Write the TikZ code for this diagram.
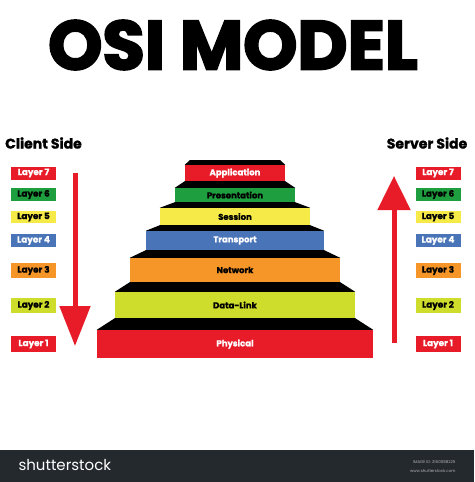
\documentclass[tikz,border=0pt]{standalone}
\usepackage{fontspec}
\setmainfont{Poppins}[BoldFeatures={FakeBold=1.2}]
\newfontfamily\titlefont{Poppins}[BoldFeatures={FakeBold=3}]
\usepackage{xcolor}
\usetikzlibrary{positioning,arrows.meta}
\definecolor{osired}{RGB}{232,28,40}
\definecolor{osigreen}{RGB}{30,158,62}
\definecolor{osiyellow}{RGB}{246,234,72}
\definecolor{osiblue}{RGB}{74,116,184}
\definecolor{osiorange}{RGB}{246,150,40}
\definecolor{osilime}{RGB}{206,220,44}
\definecolor{barcolor}{RGB}{36,41,46}

\begin{document}
\begin{tikzpicture}[x=1pt, y=-1pt]
    \tikzstyle{stair} = [rectangle, inner sep=0pt, text centered, font=\bfseries\fontsize{8.5}{9}\selectfont]
    \tikzstyle{layer} = [rectangle, inner sep=0pt, minimum width=45pt, text centered, font=\bfseries\fontsize{8.8}{9}\selectfont]
    \tikzstyle{side} = [font=\bfseries\fontsize{14}{16}\selectfont]
    \tikzstyle{bigarrow} = [draw=osired, line width=5pt]

    \useasboundingbox (0,0) rectangle (474,482);
    \fill[white] (0,0) rectangle (474,482);

    % Title
    \node [font=\titlefont\bfseries\fontsize{69}{69}\selectfont] (title) at (233,45) {OSI MODEL};
    \node [side] (client) at (43.5,143) {Client Side};
    \node [side] (server) at (427,143) {Server Side};

    % Pyramid
    \node [stair, fill=osired, text=white, minimum width=100pt, minimum height=16pt] (app) at (235,173) {Application};
    \node [stair, fill=osigreen, text=black, minimum width=120pt, minimum height=14pt] (pres) at (235,195) {Presentation};
    \node [stair, fill=osiyellow, text=black, minimum width=150pt, minimum height=17pt] (sess) at (235,216.5) {Session};
    \node [stair, fill=osiblue, text=white, minimum width=178pt, minimum height=19pt] (trans) at (235,240.5) {Transport};
    \node [stair, fill=osiorange, text=black, minimum width=210pt, minimum height=24pt] (net) at (235,270) {Network};
    \node [stair, fill=osilime, text=black, minimum width=240pt, minimum height=26pt] (link) at (235,305) {Data-Link};
    \node [stair, fill=osired, text=white, minimum width=276pt, minimum height=28pt] (phys) at (235,344) {Physical};

    % Black risers
    \coordinate (capL) at (190,160);
    \coordinate (capR) at (280,160);
    \fill [black] (capL) -- (capR) -- (app.north east) -- (app.north west) -- cycle;
    \fill [black] (app.south west) -- (app.south east) -- (pres.north east) -- (pres.north west) -- cycle;
    \fill [black] (pres.south west) -- (pres.south east) -- (sess.north east) -- (sess.north west) -- cycle;
    \fill [black] (sess.south west) -- (sess.south east) -- (trans.north east) -- (trans.north west) -- cycle;
    \fill [black] (trans.south west) -- (trans.south east) -- (net.north east) -- (net.north west) -- cycle;
    \fill [black] (net.south west) -- (net.south east) -- (link.north east) -- (link.north west) -- cycle;
    \fill [black] (link.south west) -- (link.south east) -- (phys.north east) -- (phys.north west) -- cycle;

    % Client layers
    \node [layer, fill=osired, text=white, minimum height=13pt] (c7) at (33.5,173) {Layer 7};
    \node [layer, fill=osigreen, text=black, minimum height=13pt] (c6) at (33.5,194.5) {Layer 6};
    \node [layer, fill=osiyellow, text=black, minimum height=12pt] (c5) at (33.5,217) {Layer 5};
    \node [layer, fill=osiblue, text=white, minimum height=13pt] (c4) at (33.5,240.5) {Layer 4};
    \node [layer, fill=osiorange, text=black, minimum height=15pt] (c3) at (33.5,270.5) {Layer 3};
    \node [layer, fill=osilime, text=black, minimum height=15pt] (c2) at (33.5,305.5) {Layer 2};
    \node [layer, fill=osired, text=white, minimum height=16pt] (c1) at (33.5,344) {Layer 1};

    % Server layers
    \node [layer, fill=osired, text=white, minimum height=13pt] (s7) at (438,173) {Layer 7};
    \node [layer, fill=osigreen, text=black, minimum height=13pt] (s6) at (438,194.5) {Layer 6};
    \node [layer, fill=osiyellow, text=black, minimum height=12pt] (s5) at (438,217) {Layer 5};
    \node [layer, fill=osiblue, text=white, minimum height=13pt] (s4) at (438,240.5) {Layer 4};
    \node [layer, fill=osiorange, text=black, minimum height=15pt] (s3) at (438,270.5) {Layer 3};
    \node [layer, fill=osilime, text=black, minimum height=15pt] (s2) at (438,305.5) {Layer 2};
    \node [layer, fill=osired, text=white, minimum height=16pt] (s1) at (438,344) {Layer 1};

    % Arrows
    \coordinate (downTop) at (75,173);
    \coordinate (downTip) at (75,346);
    \coordinate (upBottom) at (394,343);
    \coordinate (upTip) at (394,176);
    \draw [bigarrow, -{Triangle[length=40pt, width=30pt]}] (downTop) -- (downTip);
    \draw [bigarrow, -{Triangle[length=34pt, width=32pt]}] (upBottom) -- (upTip);

    % Footer bar
    \fill [barcolor] (0,450) rectangle (474,482);
    \node [text=white, font=\fontsize{15}{16}\selectfont, anchor=west] (brand) at (15,465) {shutterstock};
    \node [text=gray!60, font=\fontsize{4}{5}\selectfont, anchor=east] (imgid) at (459,462) {IMAGE ID: 2160088225};
    \node [text=gray!60, font=\fontsize{4}{5}\selectfont, anchor=east] (site) at (459,471) {www.shutterstock.com};
\end{tikzpicture}
\end{document}
